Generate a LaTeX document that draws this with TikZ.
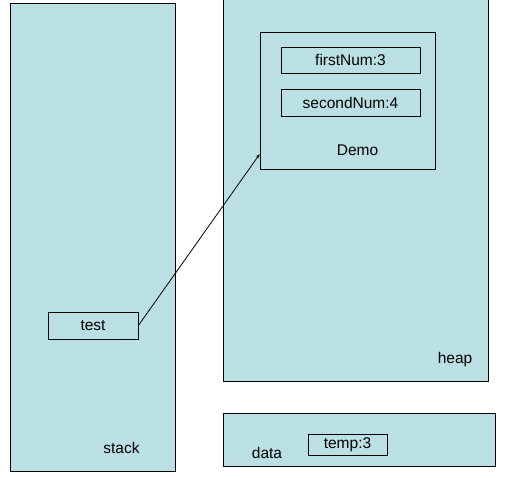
\documentclass[tikz,border=0pt]{standalone}
\usepackage{fontspec}
\setmainfont{Liberation Sans}
\usetikzlibrary{calc}
\definecolor{memfill}{HTML}{BBE0E3}
\tikzset{
	area/.style={draw, line width=1pt, fill=memfill, inner sep=0pt},
	cell/.style={draw, line width=0.8pt, inner sep=0pt, font=\fontsize{15.5}{18}\selectfont},
	lbl/.style={font=\fontsize{15.5}{18}\selectfont, inner sep=0pt}
}

\begin{document}
\begin{tikzpicture}[x=1pt, y=-1pt]
	\useasboundingbox (0,0) rectangle (516,478);
	\clip (0,0) rectangle (516,478);
	\node [area, minimum width=165pt, minimum height=467pt] (stack) at (92.5,237.5) {};
	\node [area, minimum width=265pt, minimum height=386pt] (heap) at (355.5,188) {};
	\node [area, minimum width=272pt, minimum height=53pt] (data) at (359,439.5) {};
	\node [cell, minimum width=175pt, minimum height=137pt] (demo) at (347.5,100.5) {};
	\node [cell, minimum width=139pt, minimum height=26pt] (first) at (350.5,60) {firstNum:3};
	\node [cell, minimum width=139pt, minimum height=27pt] (second) at (350.5,102.5) {secondNum:4};
	\node [cell, minimum width=90pt, minimum height=27pt] (test) at (93,325.5) {test};
	\node [cell, minimum width=79pt, minimum height=21pt] (temp) at (347.5,444.5) {temp:3};
	\node [lbl] (stacklbl) at (121.5,448) {stack};
	\node [lbl] (heaplbl) at (455,359) {heap};
	\node [lbl] (demolbl) at (357.5,150) {Demo};
	\node [lbl] (datalbl) at (267,453) {data};
	\draw [line width=0.8pt, -stealth] (test.east) -- ($(demo.south west)!0.11!(demo.north west)$);
\end{tikzpicture}
\end{document}
